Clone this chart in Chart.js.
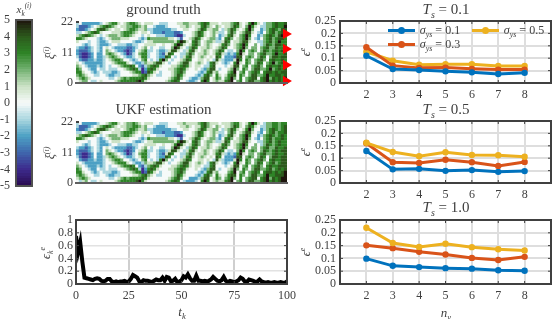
<!DOCTYPE html>
<html><head><meta charset="utf-8">
<script src="https://cdn.jsdelivr.net/npm/chart.js@4"></script>
<style>
html,body{margin:0;padding:0;background:#fff;width:554px;height:319px;overflow:hidden}
canvas{position:absolute}
.t{position:absolute;font-family:"Liberation Serif",serif;color:#404040;white-space:nowrap;line-height:1;transform:translate(-50%,-50%)}
.r{transform:translate(-50%,-50%) rotate(-90deg)}
.t sub,.t sup{font-size:66%;line-height:0}
.sw{position:absolute;height:3px}
.dot{position:absolute;width:7px;height:7px;border-radius:50%}
</style></head><body>
<script>
const nyLabels=[2,3,4,5,6,7,8];
const ts01Low=[0.110,0.056,0.052,0.047,0.043,0.036,0.041];
const ts01Mid=[0.144,0.070,0.061,0.062,0.057,0.054,0.054];
const ts01High=[0.126,0.090,0.074,0.076,0.076,0.069,0.069];
const ts05Low=[0.129,0.055,0.057,0.049,0.052,0.045,0.048];
const ts05Mid=[0.160,0.084,0.081,0.094,0.084,0.069,0.085];
const ts05High=[0.162,0.125,0.108,0.124,0.113,0.112,0.106];
const ts10Low=[0.099,0.071,0.066,0.062,0.060,0.054,0.052];
const ts10Mid=[0.151,0.140,0.126,0.115,0.102,0.094,0.106];
const ts10High=[0.220,0.160,0.145,0.157,0.144,0.136,0.131];
const errorSeries=[0.75,0.5,0.65,0.35,0.1,0.09,0.08,0.07,0.06,0.08,0.09,0.08,0.05,0.04,0.05,0.08,0.08,0.04,0.03,0.04,0.03,0.04,0.04,0.05,0.03,0.04,0.08,0.14,0.12,0.1,0.04,0.03,0.06,0.05,0.05,0.04,0.03,0.05,0.07,0.06,0.06,0.1,0.05,0.11,0.1,0.04,0.05,0.08,0.03,0.04,0.06,0.12,0.1,0.15,0.09,0.05,0.05,0.13,0.05,0.05,0.04,0.05,0.04,0.05,0.07,0.11,0.08,0.05,0.04,0.06,0.11,0.05,0.03,0.05,0.04,0.03,0.04,0.06,0.1,0.08,0.04,0.03,0.07,0.06,0.05,0.03,0.04,0.07,0.04,0.03,0.02,0.03,0.02,0.02,0.03,0.02,0.02,0.03,0.02,0.02,0.04];
const sensorXi=[17.7,12.3,6.5,0.7];
// cell levels: . 0, a..e = +1..+5, p..t = -1..-5
const heatTruth=[
"p.qqqqqqp.abcca.abccba.a"+"aa..ppp...aabbaaabcdcaa"+"a.aaabcda.aceca.pbbcdccd",
"prrrqp.abcdcba.aabbccbab"+"..pqqqp....aaba.aacdba."+"ba.aabdca.beca.ppbbcdcce",
"qrrqp.acddba.aa.abccbaab"+"ppqqqqqqpp..aa..abdcaab"+"b.pabdca.aceb..qpbcdcbdd",
"pp.abcdca...aaabcccba.aa"+".pqqqrqqqrrq...abdca.ab"+"app.bdb.abdda.pq.bcdbcdd",
"abcdcba.p.abbbabccba..p."+"a..pppqqqrssp..abdca.ab"+".qpacda.bcec..qpbcdcbdec",
"ccba...pqp.abbbaaa...pqp"+"cbbbbbbaa.pr..abdca.abb"+"pq.cdb.abceb.pq.bcdbcddc",
"a...p..pqqp.aaa....pqqp."+"aabbbbbbbaceda.cdb.abba"+"ppadc.aabdda..ppbcdbcecc",
"..pqp..pqqqp..pppqqpp..a"+"aaa..a..aceda.acdb.aba."+".acdb.abcec..b.pbdcbddcc",
"pqqrqp.pq.a.pqqqqrrqp.ab"+".p..pp..beda.pbdc.aaba."+"abdc..abceb.bb.bcdbbdccd",
"qrrrqp.pq.ba.pqqrsrq.abc"+"pp.pqqpadda.pacda.aba.a"+"bdc.pp.bec.bcb.bdcbcdcdd",
"qrssrq.qq.bcba.pqsrp.bcc"+"p..pqradc..ppbdb.aaba.a"+"cdapqpqcea.bb.bcdbbceccd",
"prssrq.qqpabcba.pqqp.acc"+"p..pqqdc.p.pacda.aba.a."+"dc.qqqrdd.bcb.bdc.bddcdd",
".qrrqqpqqp.abccb..pqp.bc"+".p.pceb.p..abdc..aa.a.p"+"dapqqqaec.cb.bcdb.cdccdc",
"a.pqqqqqqp..abccca.pqqpb"+"aabdda.p..abdda.aba.pcd"+"a.pqp.cea.cb.bdc.bcebcdd",
"ba.pqqqpqp.p..abccdc.qrp"+"bcdca...aabcdca.aa.ppcd"+"...p.add.bc.bcdb.cdccdcd",
"cb..pqq.pp.ppp..abcdcpsq"+"cdca...aabcdca..a.pqbdd"+".p..abeb.cb.bddbbcebcdcd",
"cca..pqp.pppqqp...abccsr"+"dca.p...abcdb....pqpcda"+"b...bce.bc.bcdc.cddcdcdd",
"bcba..pp..pqqpp....aabcd"+"ba.pp...abdca...pqpcdb."+"ca.acdd.cb.bddbbceccddcd",
"abcba......pp.abcbccccdc"+"a......abcdb..pqqpbdd.a"+"cb.bceb.c.bcdd.cdebdcdce",
".abb.pp.a....abcccccdeca"+"......abcdc..pqqp.cec.a"+"baacde.bc.bddbbcdecdcdcd"];
const heatUkf=[
"p.qqqqqp..abcca.abbcba.a"+"aa..ppp...aabaaaabcdbaa"+"a.aaabcca.aceca.pbbccbcc",
"prrrqp.abcdcba.aabbccbab"+"..pqqqp....aaba.aacdba."+"ba.aabdca.bdca.ppbbccbcd",
"qrrqp.acddba.aa.abccbaab"+"ppqqqqqqpp..aa..abdcaab"+"b.pabdca.aceb..qpbcdcbcd",
"pp.abcdca...aaabcccba.aa"+".pqqqrqqqrrq...abdca.ab"+"app.bdb.abdda.pq.bcdbccd",
"abcdcba.p.abbbabccba..p."+"a..pppqqqrssp..abdca.ab"+".qpacda.bcec..qpbcdcbcdc",
"ccba...pqp.abbbaaa...pqp"+"cbbbbbbaa.pr..abdca.abb"+"pq.cdb.abceb.pq.bcdbccdc",
"a...p..pqqp.aaa....pqqp."+"aabbbbbbbaceda.cdb.abba"+"ppadc.aabdda..ppbcdbcdcc",
"..pqp..pqqqp..pppqqpp..a"+"aaa..a..aceda.acdb.aba."+".acdb.abcec..b.pbdcbcdcc",
"pqqrqp.pq.a.pqqqqrrqp.ab"+".p..pp..beda.pbdc.aaba."+"abdc..abceb.bb.bcdbbdccd",
"qrrrqp.pq.ba.pqqrsrq.abc"+"pp.pqqpadda.pacda.aba.a"+"bdc.pp.bec.bcb.bdcbcdcdd",
"qrssrq.qq.bcba.pqsrp.bcc"+"p..pqradc..ppbdb.aaba.a"+"cdapqpqcea.bb.bcdbbcdccd",
"prssrq.qqpabcba.pqqp.acc"+"p..pqqdc.p.pacda.aba.a."+"dc.qqqrdd.bcb.bdc.bddcdd",
".qrrqqpqqp.abccb..pqp.bc"+".p.pceb.p..abdc..aa.a.p"+"dapqqqaec.cb.bcdb.cdccdd",
"a.pqqqqqqp..abccca.pqqpb"+"aabdda.p..abdda.aba.pcd"+"a.pqp.cea.cb.bdc.bcdbcdd",
"ba.pqqqpqp.p..abccdc.qrp"+"bcdca...aabcdca.aa.ppcd"+"...p.add.bc.bcdb.cdccddd",
"cb..pqq.pp.ppp..abcdcpsq"+"cdca...aabcdca..a.pqbdd"+".p..abeb.cb.bddbbcdbcdcd",
"cca..pqp.pppqqp...abccsr"+"dca.p...abcdb....pqpcda"+"b...bce.bc.bcdc.cddcdcde",
"bcba..pp..pqqpp....aabcd"+"ba.pp...abdca...pqpcdb."+"ca.acdd.cb.bddbbceccddde",
"abcba......pp.abcbccccdc"+"a......abcdb..qqqpbdd.a"+"cb.bceb.c.bcdd.cdebdcdee",
".pab.pp.a....abcccccdeca"+"......abcdc.pqqqp.cec.a"+"baacde.bc.bddbbcdecdcdee"];
const legendNames=["0.1","0.3","0.5"];
const levelOf={t:-5,s:-4,r:-3,q:-2,p:-1,'.':0,a:1,b:2,c:3,d:4,e:5};
const colorStops=['#2a0a50','#3d2a8c','#3f66ac','#4ca0c4','#a9d6df','#f6faf9','#cbe2c5','#74b272','#2e8427','#2c5a1c','#1e150d'];
const BLUE='#0072BD',ORANGE='#D95319',YELLOW='#EDB120',TEXT='#404040',FRAME='#404040';
const FONT='"Liberation Serif",serif';
Chart.defaults.font.family=FONT;Chart.defaults.font.size=12;Chart.defaults.color=TEXT;
Chart.defaults.animation=false;Chart.defaults.responsive=false;
Chart.defaults.layout.autoPadding=false;
function hex(c){return [1,3,5].map(i=>parseInt(c.substr(i,2),16));}
function levelColor(v){
  const p=Math.max(0,Math.min(10,v+5)),i=Math.min(9,Math.floor(p)),f=p-i,a=hex(colorStops[i]),b=hex(colorStops[i+1]);
  return 'rgb('+a.map((x,k)=>Math.round(x+(b[k]-x)*f)).join(',')+')';
}
function place(x,y,w,h){
  const c=document.createElement('canvas');c.width=w;c.height=h;
  c.style.left=x+'px';c.style.top=y+'px';c.style.width=w+'px';c.style.height=h+'px';
  document.body.appendChild(c);return c;
}
function label(html,x,y,size,rot){
  const d=document.createElement('div');d.className='t'+(rot?' r':'');d.innerHTML=html;
  d.style.left=x+'px';d.style.top=y+'px';d.style.fontSize=size+'px';document.body.appendChild(d);
}
const noPadX=s=>{s.paddingLeft=0;s.paddingRight=0;};
const noPadY=s=>{s.paddingTop=0;s.paddingBottom=0;};
const framePlugin={id:'frame',afterDatasetsDraw(ch,a,o){
  const A=ch.chartArea,g=ch.ctx;g.save();g.strokeStyle=FRAME;g.lineWidth=o.width||2;
  g.strokeRect(A.left,A.top,A.right-A.left,A.bottom-A.top);
  g.lineWidth=1;g.beginPath();
  ch.scales.x.ticks.forEach((t,i)=>{const p=ch.scales.x.getPixelForTick(i);g.moveTo(p,A.top);g.lineTo(p,A.top+3);g.moveTo(p,A.bottom);g.lineTo(p,A.bottom-3);});
  ch.scales.y.ticks.forEach((t,i)=>{const p=ch.scales.y.getPixelForTick(i);g.moveTo(A.left,p);g.lineTo(A.left+3,p);g.moveTo(A.right,p);g.lineTo(A.right-3,p);});
  g.stroke();g.restore();
}};
const cornerTick={id:'cornerTick',afterDatasetsDraw(ch){
  const A=ch.chartArea,g=ch.ctx;g.save();g.strokeStyle='#404040';g.lineWidth=2;g.beginPath();
  g.moveTo(A.left,A.top);g.lineTo(A.left+3,A.top);g.stroke();g.restore();
}};
function heatPoints(rows){
  const pts=[],cols=[],nr=rows.length,nc=rows[0].length;
  rows.forEach((row,j)=>{for(let i=0;i<row.length;i++){
    pts.push({x:(i+.5)*100/nc,y:22-(j+.5)*22/nr});cols.push(levelColor(levelOf[row[i]]));}});
  return {pts,cols};
}
function heatChart(rows,title,canvasTop,markers){
  const c=place(40,canvasTop,260,22+61+4);
  c.style.filter='blur(0.5px)';
  const H=heatPoints(rows);
  const ds=[{data:H.pts,backgroundColor:H.cols,pointStyle:'rect',pointRadius:2.35,pointBorderWidth:0,pointHoverRadius:2.35,order:2}];
  if(markers)ds.push({data:markers.map(v=>({x:99.5,y:v})),pointStyle:'triangle',rotation:90,pointRadius:6,backgroundColor:'#ff0000',pointBorderWidth:0,clip:false,order:1});
  return new Chart(c,{type:'scatter',data:{datasets:ds},options:{
    layout:{autoPadding:false,padding:{right:13,top:0,bottom:0,left:0}},
    plugins:{legend:{display:false},tooltip:{enabled:false},
      title:{display:true,text:title,font:{size:15,weight:'normal',family:FONT},color:TEXT,padding:{top:1,bottom:3}}},
    scales:{
      x:{type:'linear',min:0,max:100,afterFit:s=>{s.height=4;noPadX(s);},grid:{display:false,drawTicks:false},ticks:{display:false},border:{display:true,color:'#606060',width:2,z:1}},
      y:{type:'linear',min:0,max:22,afterFit:s=>{s.width=36;noPadY(s);},afterBuildTicks:s=>{s.ticks=[{value:0},{value:11},{value:22}];},grid:{display:false,drawTicks:false},border:{display:false},ticks:{padding:3,font:{size:12},autoSkip:false}}
    }},plugins:[cornerTick]});
}
function errorChart(series,top,h){
  const c=place(300,top-6,254,6+h+22);
  new Chart(c,{type:'line',data:{labels:nyLabels,datasets:series.map(s=>({data:s.v.map((y,i)=>({x:nyLabels[i],y})),borderColor:s.c,backgroundColor:s.c,pointBackgroundColor:s.c,pointBorderColor:s.c,borderWidth:3,pointRadius:3.2,pointBorderWidth:0,order:s.o}))},options:{
    layout:{autoPadding:false,padding:{right:3,top:6}},
    plugins:{legend:{display:false},tooltip:{enabled:false},frame:{width:2}},
    scales:{
      x:{type:'linear',min:1,max:9,afterFit:s=>{s.height=22;noPadX(s);},afterBuildTicks:s=>{s.ticks=nyLabels.map(v=>({value:v}));},grid:{color:'#dedede',lineWidth:2,drawTicks:false},border:{display:false},ticks:{padding:5,font:{size:12},autoSkip:false,maxRotation:0}},
      y:{min:0,max:0.25,afterFit:s=>{s.width=40;noPadY(s);},grid:{color:'#dedede',lineWidth:2,drawTicks:false},border:{display:false},ticks:{stepSize:0.05,padding:4,font:{size:12},autoSkip:false,callback:v=>String(+v.toFixed(2))}}
    }},plugins:[framePlugin]});
}
// colour bar
(function(){
  const c=place(0,14,36,178);
  const levels=[-5,5];
  new Chart(c,{type:'bar',data:{labels:[''],datasets:[{data:[levels],barPercentage:1,categoryPercentage:1,borderWidth:0,
    backgroundColor:ctx=>{
      const A=ctx.chart.chartArea;if(!A)return '#888';
      const g=ctx.chart.ctx.createLinearGradient(0,A.top,0,A.bottom),N=64;
      for(let i=0;i<N;i++){const col=levelColor(5-10*(i+.5)/N);g.addColorStop(i/N,col);g.addColorStop((i+1)/N,col);}
      return g;
    }}]},options:{
    layout:{autoPadding:false,padding:{top:6,bottom:6,right:4}},
    plugins:{legend:{display:false},tooltip:{enabled:false}},
    scales:{
      x:{afterFit:s=>{s.height=0;noPadX(s);},grid:{display:false,drawTicks:false},border:{display:false},ticks:{display:false}},
      y:{min:-5,max:5,afterFit:s=>{s.width=16;noPadY(s);},grid:{display:false,drawTicks:false},border:{display:false},ticks:{stepSize:1,padding:6,font:{size:12},autoSkip:false}}
    }},plugins:[{id:'cbFrame',afterDatasetsDraw(ch){const A=ch.chartArea,g=ch.ctx;g.save();g.strokeStyle='#505050';g.lineWidth=2;g.strokeRect(A.left,A.top,A.right-A.left,A.bottom-A.top);g.restore();}}]});
})();
heatChart(heatTruth,'ground truth',0,sensorXi);
heatChart(heatUkf,'UKF estimation',100,null);
// tracking error
(function(){
  const c=place(40,214,260,6+64+22);
  new Chart(c,{type:'line',data:{datasets:[{data:errorSeries.map((y,x)=>({x,y})),borderColor:'#000',borderWidth:4,pointRadius:0,tension:0}]},options:{
    layout:{autoPadding:false,padding:{right:13,top:6}},
    plugins:{legend:{display:false},tooltip:{enabled:false},frame:{width:2}},
    scales:{
      x:{type:'linear',min:0,max:100,afterFit:s=>{s.height=22;noPadX(s);},afterBuildTicks:s=>{s.ticks=[0,25,50,75,100].map(value=>({value}));},grid:{color:'#cfcfcf',lineWidth:2,drawTicks:false},border:{display:false},ticks:{padding:5,font:{size:12},maxRotation:0,autoSkip:false}},
      y:{min:0,max:1,afterFit:s=>{s.width=36;noPadY(s);},grid:{color:'#e2e2e2',lineWidth:1.5,drawTicks:false},border:{display:false},ticks:{stepSize:0.2,padding:3,font:{size:12},autoSkip:false,callback:v=>String(+v.toFixed(1))}}
    }},plugins:[framePlugin]});
})();
errorChart([{v:ts01Low,c:BLUE,o:1},{v:ts01Mid,c:ORANGE,o:2},{v:ts01High,c:YELLOW,o:3}],21,62);
errorChart([{v:ts05Low,c:BLUE,o:3},{v:ts05Mid,c:ORANGE,o:2},{v:ts05High,c:YELLOW,o:1}],121,62);
errorChart([{v:ts10Low,c:BLUE,o:3},{v:ts10Mid,c:ORANGE,o:2},{v:ts10High,c:YELLOW,o:1}],220,64);
// legend inside the first error panel
[[legendNames[0],BLUE,388,30],[legendNames[1],ORANGE,388,44],[legendNames[2],YELLOW,472,30]].forEach(([n,col,x,y])=>{
  const s=document.createElement('div');s.className='sw';s.style.cssText+=`left:${x}px;top:${y-1.5}px;width:27px;background:${col}`;document.body.appendChild(s);
  const d=document.createElement('div');d.className='dot';d.style.cssText+=`left:${x+10}px;top:${y-3.5}px;background:${col}`;document.body.appendChild(d);
  label(`<i>σ<sub>ys</sub></i> = ${n}`,x+52,y,12);
});
label('<i>T<sub>s</sub></i> = 0.1',446,9,15);
label('<i>T<sub>s</sub></i> = 0.5',446,109,15);
label('<i>T<sub>s</sub></i> = 1.0',446,207,15);
label('<i>x<sub>k</sub><sup>(i)</sup></i>',24,9,11);
label('<i>ξ<sup>(i)</sup></i>',50,53,12,true);
label('<i>ξ<sup>(i)</sup></i>',50,153,12,true);
label('<i>ϵ<sub>k</sub><sup>e</sup></i>',46,253,12,true);
label('<i>ϵ<sup>e</sup></i>',306,52,12,true);
label('<i>ϵ<sup>e</sup></i>',306,152,12,true);
label('<i>ϵ<sup>e</sup></i>',306,252,12,true);
label('<i>t<sub>k</sub></i>',182,311,13);
label('<i>n<sub>y</sub></i>',446,312,13);
</script>
</body></html>
